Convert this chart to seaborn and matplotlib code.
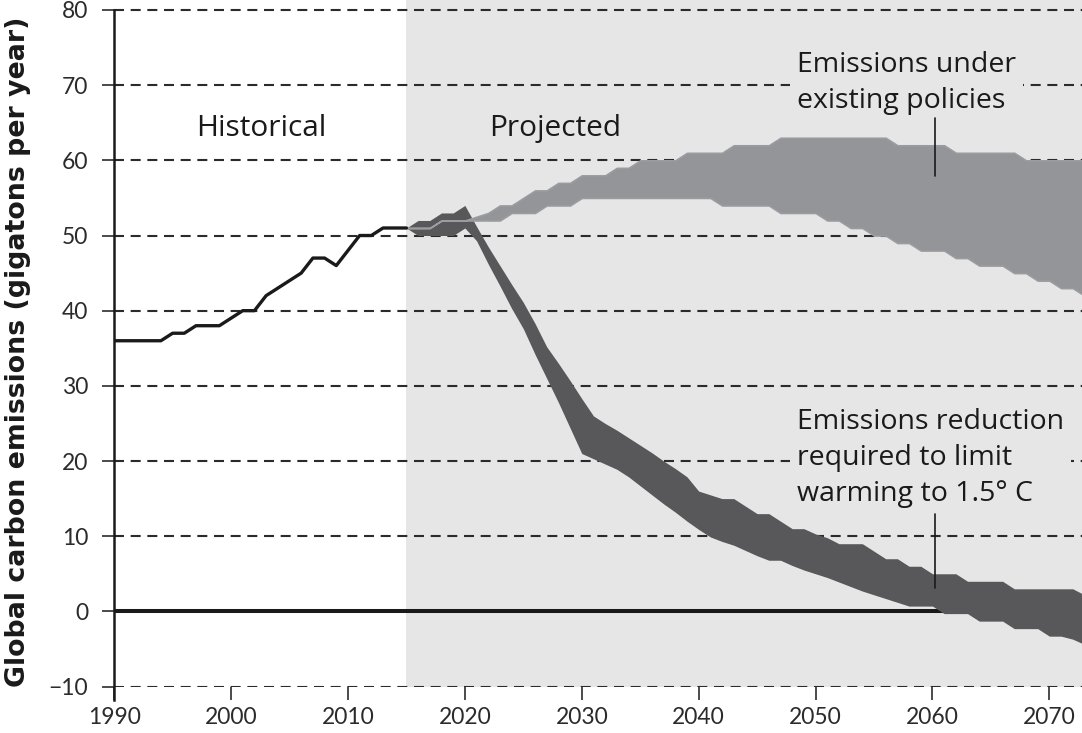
import numpy as np
import matplotlib
matplotlib.use("Agg")
import matplotlib.pyplot as plt
import pandas as pd
import seaborn as sns

# historical emissions (gigatons per year)
hist_years = list(range(1990, 2016))
hist_emissions = [36, 36, 36, 36, 36, 37, 37, 38, 38, 38, 39, 40, 40, 42, 43,
                  44, 45, 47, 47, 46, 48, 50, 50, 51, 51, 51]

# projections 2015-2073
proj_years = list(range(2015, 2074))
policy_low = [51, 51, 51, 52, 52, 52, 52, 52, 52, 53,
              53, 53, 54, 54, 54, 55, 55, 55, 55, 55,
              55, 55, 55, 55, 55, 55, 55, 54, 54, 54,
              54, 54, 53, 53, 53, 53, 52, 52, 51, 51,
              50, 50, 49, 49, 48, 48, 48, 47, 47, 46,
              46, 46, 45, 45, 44, 44, 43, 43, 42]
policy_high = [51, 51, 51, 52, 52, 52, 52.5, 53, 54, 54,
               55, 56, 56, 57, 57, 58, 58, 58, 59, 59,
               60, 60, 60, 60, 61, 61, 61, 61, 62, 62,
               62, 62, 63, 63, 63, 63, 63, 63, 63, 63,
               63, 63, 62, 62, 62, 62, 62, 61, 61, 61,
               61, 61, 61, 60, 60, 60, 60, 60, 60]
limit_low = [51, 50, 50, 50, 50, 51, 49.3, 46.2, 43.3, 40.3,
             37.6, 34.2, 31, 27.8, 24.4, 21, 20.3, 19.6, 18.9, 17.9,
             16.7, 15.5, 14.3, 13.2, 12, 10.9, 9.9, 9.3, 8.8, 8.1,
             7.4, 6.8, 6.8, 6.1, 5.5, 5, 4.5, 3.9, 3.3, 2.7,
             2.2, 1.7, 1.2, 0.7, 0.7, 0.7, -0.3, -0.3, -0.3, -1.3,
             -1.3, -1.3, -2.3, -2.3, -2.3, -3.3, -3.3, -3.7, -4.4]
limit_high = [51, 52, 52, 53, 53, 54, 51.2, 48.5, 46, 43.5,
              41.1, 38.3, 35.2, 33, 30.7, 28.3, 26, 25, 24.1, 23.1,
              22.1, 21.1, 20, 19, 17.9, 16, 15.5, 15, 15, 14,
              13, 13, 12, 11, 11, 10.3, 9.8, 9, 9, 9,
              8, 7, 7, 6, 6, 5, 5, 5, 4, 4,
              4, 4, 3, 3, 3, 3, 3, 3, 2.2]

x_ticks = list(range(1990, 2071, 10))
y_ticks = list(range(-10, 81, 10))

proj = pd.DataFrame({"year": proj_years, "policy_low": policy_low,
                     "policy_high": policy_high, "limit_low": limit_low,
                     "limit_high": limit_high})
hist = pd.DataFrame({"year": hist_years, "emissions": hist_emissions})

sns.set_style("white")
plt.rcParams["font.family"] = "Open Sans"
plt.rcParams["axes.unicode_minus"] = True

fig, ax = plt.subplots(figsize=(10.82, 7.33), dpi=100)
fig.subplots_adjust(left=0.1055, right=1.0, bottom=0.0634, top=1.0)

ink = "#1a1a1a"

ax.axvspan(2015, 2080, color="#e6e6e6", lw=0, zorder=0)
ax.set_axisbelow(True)
ax.yaxis.grid(True, color="#2b2b2b", lw=1.5, ls=(0, (4.8, 3.2)))
ax.xaxis.grid(False)

ax.axhline(0, color=ink, lw=2.9, zorder=1)

ax.fill_between(proj["year"], proj["limit_low"], proj["limit_high"],
                color="#58585a", lw=0, zorder=2)
ax.fill_between(proj["year"], proj["policy_low"], proj["policy_high"],
                facecolor="#939598", edgecolor="#9a9c9f", lw=1.2, zorder=3)
sns.lineplot(data=hist, x="year", y="emissions", color=ink, lw=2.4,
             ax=ax, zorder=4)

ax.set_xlim(1990, 2072.79)
ax.set_ylim(-10, 81.33)
ax.set_xticks(x_ticks)
ax.set_yticks(y_ticks)

for s in ["top", "right", "bottom"]:
    ax.spines[s].set_visible(False)
ax.spines["left"].set_color(ink)
ax.spines["left"].set_linewidth(1.8)
ax.spines["left"].set_bounds(-11.8, 80)

ax.tick_params(axis="y", direction="out", length=8.6, width=1.1, color=ink,
               pad=10, labelsize=16.5, labelcolor="#2b2b2b", left=True)
ax.tick_params(axis="x", direction="out", length=9.4, width=1.1, color=ink,
               pad=5, labelsize=16.5, labelcolor="#2b2b2b", bottom=True)
for lbl in ax.get_xticklabels() + ax.get_yticklabels():
    lbl.set_fontfamily("Lato")

ax.set_xlabel("")
ax.set_ylabel("Global carbon emissions (gigatons per year)", fontfamily="DejaVu Sans",
              fontweight="bold", fontsize=19.3, color=ink)
ax.yaxis.set_label_coords(-0.086, 0.488)

ax.text(2002.6, 63.2, "Historical", fontsize=21.5, color=ink, ha="center", va="baseline")
ax.text(2027.7, 63.2, "Projected", fontsize=21.5, color=ink, ha="center", va="baseline")

# va="baseline" anchors the last line of a multi-line text
box = dict(facecolor="#e6e6e6", edgecolor="none", pad=5)
ax.text(2048.4, 67.0, "Emissions under\nexisting policies", fontsize=20.5,
        color=ink, va="baseline", linespacing=1.37, bbox=box, zorder=5)
ax.text(2048.4, 14.7, "Emissions reduction\nrequired to limit\nwarming to 1.5° C",
        fontsize=20.5, color=ink, va="baseline", linespacing=1.37, bbox=box, zorder=5)

ax.plot([2060.2, 2060.2], [65.65, 57.9], color=ink, lw=1.2, zorder=5)
ax.plot([2060.2, 2060.2], [12.97, 3.13], color=ink, lw=1.2, zorder=5)

fig.savefig("out.png", dpi=100)
